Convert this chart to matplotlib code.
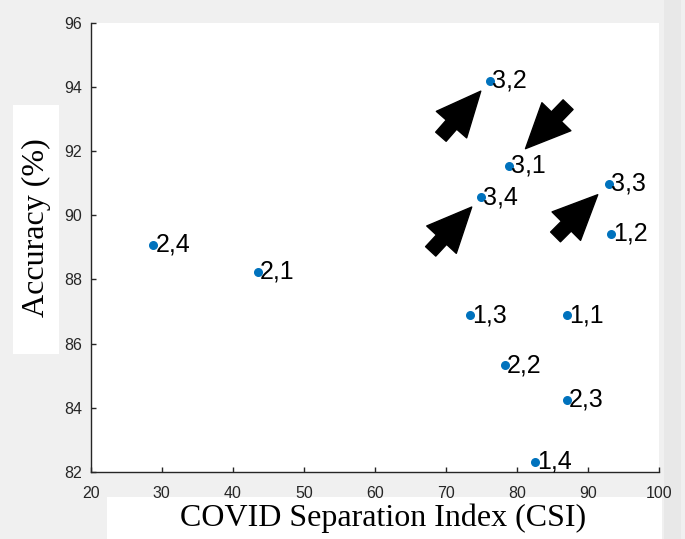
import matplotlib
matplotlib.use('Agg')
import matplotlib.pyplot as plt
from matplotlib.patches import Rectangle

# (CSI, accuracy) pairs
labels = ['1,1', '1,2', '1,3', '1,4', '2,1', '2,2', '2,3', '2,4', '3,1', '3,2', '3,3', '3,4']
csi = [87.1, 93.3, 73.4, 82.5, 43.5, 78.3, 87.0, 28.8, 78.9, 76.2, 92.9, 74.9]
acc = [86.89, 89.42, 86.89, 82.31, 88.24, 85.33, 84.24, 89.08, 91.55, 94.2, 90.98, 90.56]

x_ticks = [20, 30, 40, 50, 60, 70, 80, 90, 100]
y_ticks = [82, 84, 86, 88, 90, 92, 94, 96]

# arrows drawn toward these points: (label, tail offset px, gap to point in pt)
arrows = [('3,2', (-49, -56), 10), ('3,1', (59, 61), 17),
          ('3,4', (-50, -54), 9.5), ('3,3', (-53, -53), 11)]

fig = plt.figure(figsize=(6.85, 5.39), dpi=100, facecolor='#f0f0f0')

# slightly darker strip on the right edge
fig.patches.append(Rectangle((664/685, 0), 17/685, 1, transform=fig.transFigure,
                             facecolor='#e8e8e8', edgecolor='none', zorder=-1))
# white boxes behind the axis titles
fig.patches.append(Rectangle((107/685, 0), 555/685, 42/539, transform=fig.transFigure,
                             facecolor='white', edgecolor='none', zorder=-1))
fig.patches.append(Rectangle((13/685, 1 - 354/539), 46/685, 249/539, transform=fig.transFigure,
                             facecolor='white', edgecolor='none', zorder=-1))

ax = fig.add_axes([0.1324, 0.1248, 0.8296, 0.8325])
ax.set_facecolor('white')

ax.scatter(csi, acc, s=30, color='#0072BD', zorder=3)
for lab, x, y in zip(labels, csi, acc):
    ax.annotate(lab, (x, y), xytext=(1.5, 0), textcoords='offset points',
                ha='left', va='center', fontsize=18, family='Liberation Sans',
                color='black')

for lab, off, gap in arrows:
    i = labels.index(lab)
    ax.annotate('', xy=(csi[i], acc[i]), xytext=off, textcoords='offset pixels',
                arrowprops=dict(arrowstyle='simple,head_length=32,head_width=29,tail_width=10',
                                mutation_scale=1, color='black', shrinkA=0, shrinkB=gap))

ax.set_xlim(20, 100)
ax.set_ylim(82, 96)
ax.set_xticks(x_ticks)
ax.set_yticks(y_ticks)
for s in ['top', 'right']:
    ax.spines[s].set_visible(False)
for s in ['left', 'bottom']:
    ax.spines[s].set_color('#262626')
    ax.spines[s].set_linewidth(1.0)
ax.tick_params(direction='in', length=3.6, width=1.0, color='#262626',
               labelsize=11.5, labelcolor='#262626')
ax.tick_params(axis='x', pad=10)
ax.tick_params(axis='y', pad=6)
for t in ax.get_xticklabels() + ax.get_yticklabels():
    t.set_family('Liberation Sans')

fig.text(383/685, 1 - 518/539, 'COVID Separation Index (CSI)', ha='center', va='center',
         fontsize=23, family='Liberation Serif')
fig.text(36/685, 1 - 228/539, 'Accuracy (%)', ha='center', va='center', rotation=90,
         fontsize=23, family='Liberation Serif')

fig.savefig('out.png', dpi=100, facecolor=fig.get_facecolor())
